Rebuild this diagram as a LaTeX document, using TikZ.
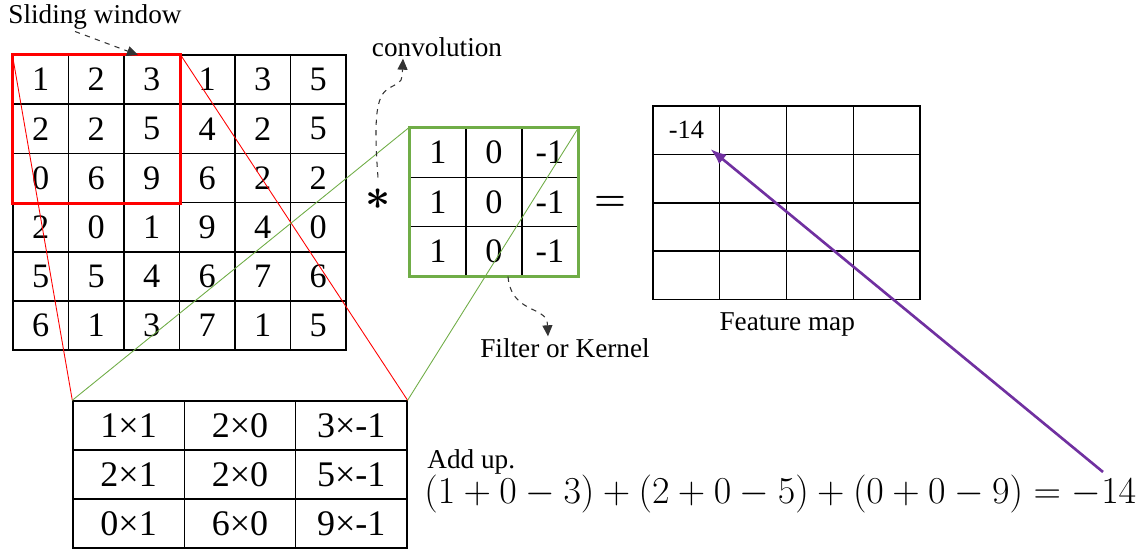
\documentclass[tikz,border=0pt]{standalone}
\usepackage{amsmath}
\usepackage{graphicx}
\usepackage{fontspec}
\setmainfont{Liberation Serif}
\usetikzlibrary{arrows.meta,positioning}
\definecolor{winred}{HTML}{FF0000}
\definecolor{kergreen}{HTML}{70AD47}
\definecolor{mappurple}{HTML}{7030A0}
\tikzset{
  cell/.style={rectangle,draw=black,line width=0.8pt,inner sep=0pt,font=\fontsize{19.5}{22}\selectfont},
  incell/.style={cell,minimum width=1.11cm,minimum height=0.984cm},
  kcell/.style={cell,minimum width=1.12cm,minimum height=0.986cm},
  fcell/.style={cell,minimum width=1.335cm,minimum height=0.968cm},
  pcell/.style={cell,minimum width=2.226cm,minimum height=0.98cm,font=\fontsize{20.5}{22}\selectfont},
  lbl/.style={inner sep=1pt,font=\fontsize{15.5}{18}\selectfont},
  hint/.style={-{Triangle[length=2.2mm,width=2mm]},dashed,line width=0.6pt,draw=black!80},
  link/.style={line width=0.5pt}
}
\begin{document}
\begin{tikzpicture}[x=0.02cm,y=-0.02cm]
\useasboundingbox (0,0) rectangle (1145,550);
% input image
\foreach \row [count=\r] in {{1,2,3,1,3,5},{2,2,5,4,2,5},{0,6,9,6,2,2},{2,0,1,9,4,0},{5,5,4,6,7,6},{6,1,3,7,1,5}}
  \foreach \v [count=\c] in \row
    \node[incell] (in-\r-\c) at ({13+55.5*(\c-0.5)},{55+49.2*(\r-0.5)}) {\v};
% kernel
\foreach \row [count=\r] in {{1,0,-1},{1,0,-1},{1,0,-1}}
  \foreach \v [count=\c] in \row
    \node[kcell] (k-\r-\c) at ({410+56*(\c-0.5)},{128+49.3*(\r-0.5)}) {\v};
% feature map
\foreach \r in {1,...,4}
  \foreach \c in {1,...,4}
    \node[fcell] (fm-\r-\c) at ({653+66.75*(\c-0.5)},{106+48.4*(\r-0.5)}) {};
\node[font=\fontsize{15}{17}\selectfont] (fmval) at (fm-1-1) {-14};
% products
\foreach \row [count=\r] in {{1×1,2×0,3×-1},{2×1,2×0,5×-1},{0×1,6×0,9×-1}}
  \foreach \v [count=\c] in \row
    \node[pcell] (p-\r-\c) at ({73+111.3*(\c-0.5)},{401+49*(\r-0.5)}) {\v};
% frames
\draw[winred,line width=1.8pt] (in-1-1.north west) rectangle (in-3-3.south east);
\draw[kergreen,line width=1.8pt] (k-1-1.north west) rectangle (k-3-3.south east);
\draw[link,winred] (in-1-1.north west) -- (p-1-1.north west);
\draw[link,winred] (in-1-3.north east) -- (p-1-3.north east);
\draw[link,kergreen] (k-1-1.north west) -- (p-1-1.north west);
\draw[link,kergreen] (k-1-3.north east) -- (p-1-3.north east);
% symbols and labels
\node[font=\fontsize{24}{24}\selectfont] (star) at (378,199) {$\boldsymbol{\ast}$};
\node[font=\fontsize{22}{22}\selectfont] (eq) at (610,203) {$\boldsymbol{=}$};
\node[lbl] (slide) at (95,17) {Sliding window};
\node[lbl] (conv) at (437,47) {convolution};
\node[lbl] (kername) at (565,348) {Filter or Kernel};
\node[lbl,below=0.2cm of fm-4-2.south east] (fmname) {Feature map};
\node[anchor=west,inner sep=0pt,font=\fontsize{15.5}{17}\selectfont] (addup) at (427,462) {Add up.};
\node[anchor=west,inner sep=0pt,font=\fontsize{20.74}{22}\selectfont] (sum) at (424,494) {\scalebox{1.044}{$(1+0-3)+(2+0-5)+(0+0-9)=-14$}};
\coordinate (sumTip) at (1103,472);
% hints
\draw[hint] ([xshift=-0.4cm]slide.south) -- (138,55);
\draw[hint] ([yshift=0.1cm]star.north) .. controls (372,100) and (380,92) .. (393,86) .. controls (402,81) .. ([xshift=-0.68cm]conv.south);
\draw[hint] ([xshift=0.28cm]k-3-2.south) .. controls (510,300) and (525,306) .. (538,312) .. controls (547,318) .. ([xshift=-0.34cm]kername.north);
\draw[mappurple,line width=1.5pt,-{Latex[length=3.2mm,width=2.4mm]}] (sumTip) -- ([shift={(-10,-6)}]fm-1-1.south east);
\end{tikzpicture}
\end{document}
